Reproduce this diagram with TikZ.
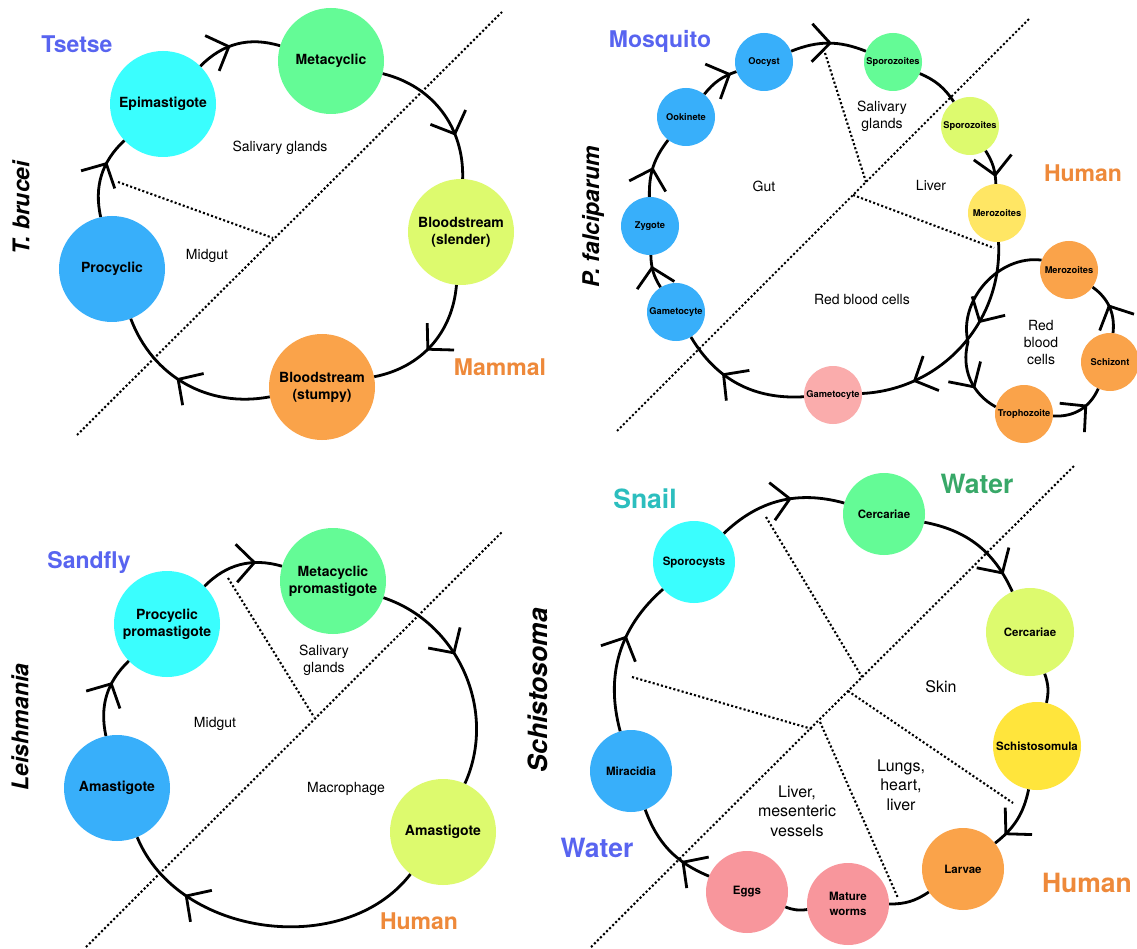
\documentclass[tikz,border=0pt]{standalone}
\usepackage{fontspec}
\setmainfont{TeX Gyre Heros}
\usetikzlibrary{decorations.markings}
\definecolor{cCyan}{RGB}{58,254,254}
\definecolor{cGreen}{RGB}{100,251,150}
\definecolor{cLime}{RGB}{221,250,110}
\definecolor{cOrange}{RGB}{250,163,74}
\definecolor{cBlue}{RGB}{56,175,250}
\definecolor{cYellow}{RGB}{255,230,100}
\definecolor{cYellowB}{RGB}{255,229,60}
\definecolor{cPink}{RGB}{250,172,172}
\definecolor{cRose}{RGB}{248,150,156}
\definecolor{tBlue}{RGB}{88,100,240}
\definecolor{tOrange}{RGB}{238,137,58}
\definecolor{tTeal}{RGB}{44,190,190}
\definecolor{tGreen}{RGB}{56,168,104}
\tikzset{
  stagebig/.style={circle, inner sep=0pt, minimum size=106pt, align=center,
    font=\bfseries\fontsize{14}{17}\selectfont},
  stagesmall/.style={circle, inner sep=0pt, minimum size=58pt, align=center,
    font=\bfseries\fontsize{9.3}{11}\selectfont},
  stagemid/.style={circle, inner sep=0pt, minimum size=82pt, align=center,
    font=\bfseries\fontsize{11.5}{14.5}\selectfont},
  region/.style={align=center, font=\fontsize{14}{17}\selectfont},
  regionbig/.style={align=center, font=\fontsize{16}{19.5}\selectfont},
  host/.style={font=\bfseries\fontsize{23}{27}\selectfont},
  hostbig/.style={font=\bfseries\fontsize{26.5}{30}\selectfont},
  title/.style={rotate=90, font=\bfseries\itshape\fontsize{23}{27}\selectfont},
  cyc/.style={line width=2.8pt},
  mk/.style={postaction={decorate, decoration={markings,
    mark=at position #1 with {\draw[line width=2.8pt, line cap=butt, line join=miter]
      (-18pt,19pt) -- (0pt,0pt) -- (-18pt,-19pt);}}}},
  sep/.style={line width=2.1pt, dash pattern=on 2.1pt off 2.2pt}
}
\begin{document}
\begin{tikzpicture}[x=1pt,y=1pt]
\fill[white] (0,0) rectangle (1137,-949);
\useasboundingbox (0,0) rectangle (1137,-949);

% ---------------- Panel 1: T. brucei ----------------
\draw[sep] (77,-435) -- (502,-12);
\draw[sep] (118,-182) -- (273,-238);
\node[stagebig, fill=cCyan] (epi) at (163,-104) {Epimastigote};
\node[stagebig, fill=cGreen] (meta1) at (331,-61) {Metacyclic};
\node[stagebig, fill=cLime] (slen) at (461,-232) {Bloodstream\\(slender)};
\node[stagebig, fill=cOrange] (stum) at (322,-387) {Bloodstream\\(stumpy)};
\node[stagebig, fill=cBlue] (proc) at (112,-269) {Procyclic};
\draw[cyc, mk=0.40] (epi) to[bend left=31] (meta1);
\draw[cyc, mk=0.68] (meta1) to[bend left=39] (slen);
\draw[cyc, mk=0.54] (slen) to[bend left=37] (stum);
\draw[cyc, mk=0.55] (stum) to[bend left=40] (proc);
\draw[cyc, mk=0.65] (proc) to[bend left=29.5] (epi);
\node[region] (sg1) at (280,-148) {Salivary glands};
\node[region] (mg1) at (207,-256) {Midgut};
\node[host, text=tBlue] (tsetse) at (77,-44) {Tsetse};
\node[host, text=tOrange] (mammal) at (500,-367) {Mammal};
\node[title] (tb) at (21,-208) {T. brucei};

% ---------------- Panel 2: P. falciparum ----------------
\draw[sep] (617,-431) -- (1029,-19);
\draw[sep] (825,-53) -- (866,-182);
\draw[sep] (853,-195) -- (994,-248);
\node[stagesmall, fill=cBlue] (oocyst) at (764,-62) {Oocyst};
\node[stagesmall, fill=cGreen] (spoG) at (893,-62) {Sporozoites};
\node[stagesmall, fill=cLime] (spoL) at (970,-126) {Sporozoites};
\node[stagesmall, fill=cYellow] (meroY) at (997,-213) {Merozoites};
\node[stagesmall, fill=cPink] (gamP) at (833,-395) {Gametocyte};
\node[stagesmall, fill=cBlue] (gamB) at (676,-312) {Gametocyte};
\node[stagesmall, fill=cBlue] (zyg) at (650,-226) {Zygote};
\node[stagesmall, fill=cBlue] (ook) at (686,-117) {Ookinete};
\node[stagesmall, fill=cOrange] (meroO) at (1069,-270) {Merozoites};
\node[stagesmall, fill=cOrange] (schiz) at (1110,-362) {Schizont};
\node[stagesmall, fill=cOrange] (troph) at (1024,-414) {Trophozoite};
\draw[cyc, mk=0.63] (gamB) to[bend left=15.2] (zyg);
\draw[cyc, mk=0.46] (zyg) to[bend left=19.5] (ook);
\draw[cyc, mk=0.81] (ook) to[bend left=16] (oocyst);
\draw[cyc, mk=0.52] (oocyst) to[bend left=21.7] (spoG);
\draw[cyc] (spoG) to[bend left=16.4] (spoL);
\draw[cyc, mk=0.75] (spoL) to[bend left=15] (meroY);
\draw[cyc, mk=0.365, mk=0.76] (meroY) to[bend left=45] (gamP);
\draw[cyc, mk=0.63] (gamP) to[bend left=31.3] (gamB);
\coordinate (rbcL) at (968,-342);
\draw[cyc] (meroO) to[bend right=55.3] (rbcL);
\draw[cyc, mk=0.61] (rbcL) to[bend right=38] (troph);
\draw[cyc, mk=0.62] (troph) to[bend right=35] (schiz);
\draw[cyc, mk=0.52] (schiz) to[bend right=30] (meroO);
\node[region] (sg2) at (882,-116) {Salivary\\glands};
\node[region] (gut2) at (764,-186) {Gut};
\node[region] (liv2) at (931,-186) {Liver};
\node[region] (rbc2) at (862,-300) {Red blood cells};
\node[region] (rbc3) at (1041,-343) {Red\\blood\\cells};
\node[host, text=tBlue] (mosq) at (660,-41) {Mosquito};
\node[host, text=tOrange] (human2) at (1083,-173) {Human};
\node[title] (pf) at (593,-217) {P. falciparum};

% ---------------- Panel 3: Leishmania ----------------
\draw[sep] (86,-947) -- (502,-532);
\draw[sep] (228,-578) -- (314,-717);
\node[stagebig, fill=cCyan] (prom) at (167,-624) {Procyclic\\promastigote};
\node[stagebig, fill=cGreen] (metap) at (333,-581) {Metacyclic\\promastigote};
\node[stagebig, fill=cLime] (amaL) at (443,-832) {Amastigote};
\node[stagebig, fill=cBlue] (amaB) at (117,-788) {Amastigote};
\draw[cyc, mk=0.65] (amaB) to[bend left=29] (prom);
\draw[cyc, mk=0.67] (prom) to[bend left=30.7] (metap);
\draw[cyc, mk=0.40] (metap) to[bend left=48] (amaL);
\draw[cyc, mk=0.76] (amaL) to[bend left=60] (amaB);
\node[region] (sg3) at (324,-660) {Salivary\\glands};
\node[region] (mg3) at (215,-724) {Midgut};
\node[region] (mac3) at (346,-789) {Macrophage};
\node[host, text=tBlue] (sandfly) at (89,-562) {Sandfly};
\node[host, text=tOrange] (human3) at (419,-921) {Human};
\node[title] (lei) at (20,-727) {Leishmania};

% ---------------- Panel 4: Schistosoma ----------------
\draw[sep] (591,-947) -- (1075,-465);
\draw[sep] (766,-517) -- (862,-677);
\draw[sep] (848,-691) -- (1013,-803);
\draw[sep] (632,-677) -- (812,-729);
\draw[sep] (820,-722) -- (898,-898);
\node[stagemid, fill=cCyan] (spor) at (694,-562) {Sporocysts};
\node[stagemid, fill=cGreen] (cercG) at (884,-514) {Cercariae};
\node[stagemid, fill=cLime, minimum size=88pt] (cercL) at (1030,-632) {Cercariae};
\node[stagemid, fill=cYellowB, minimum size=88pt] (schm) at (1037,-746) {Schistosomula};
\node[stagemid, fill=cOrange] (larv) at (963,-869) {Larvae};
\node[stagemid, fill=cRose] (matw) at (848,-904) {Mature\\worms};
\node[stagemid, fill=cRose] (eggs) at (747,-892) {Eggs};
\node[stagemid, fill=cBlue] (mira) at (631,-771) {Miracidia};
\draw[cyc, mk=0.61] (mira) to[bend left=32] (spor);
\draw[cyc, mk=0.58] (spor) to[bend left=29.6] (cercG);
\draw[cyc, mk=0.82] (cercG) to[bend left=27.4] (cercL);
\draw[cyc] (cercL) to[bend left=15.9] (schm);
\draw[cyc, mk=0.78] (schm) to[bend left=20.1] (larv);
\draw[cyc] (larv) to[bend left=17] (matw);
\draw[cyc] (matw) to[bend left=14.5] (eggs);
\draw[cyc, mk=0.31] (eggs) to[bend left=23.6] (mira);
\node[regionbig] (skin) at (941,-687) {Skin};
\node[regionbig] (lhl) at (901,-785) {Lungs,\\heart,\\liver};
\node[regionbig] (lmv) at (797,-811) {Liver,\\mesenteric\\vessels};
\node[hostbig, text=tTeal] (snail) at (645,-499) {Snail};
\node[hostbig, text=tGreen] (water1) at (977,-484) {Water};
\node[hostbig, text=tBlue] (water2) at (597,-848) {Water};
\node[hostbig, text=tOrange] (human4) at (1087,-883) {Human};
\node[title, font=\bfseries\itshape\fontsize{26.5}{30}\selectfont] (schi) at (538,-690) {Schistosoma};
\end{tikzpicture}
\end{document}
